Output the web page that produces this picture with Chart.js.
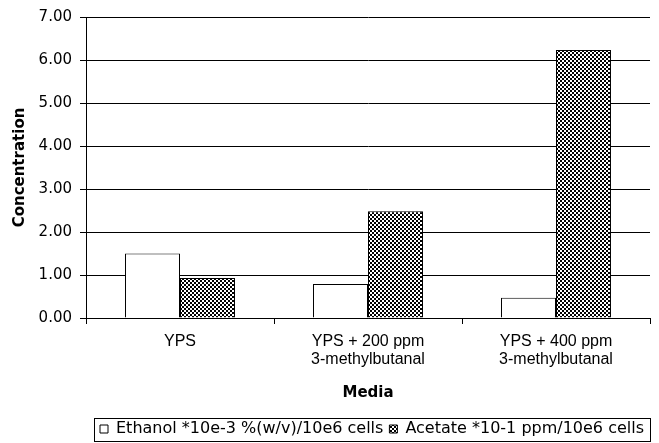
<!DOCTYPE html>
<html>
<head>
<meta charset="utf-8">
<script src="https://cdn.jsdelivr.net/npm/chart.js@4/dist/chart.umd.min.js"></script>
<style>
  html, body { margin: 0; padding: 0; background: #fff; }
  #wrap { width: 659px; height: 443px; }
  canvas { background: #fff; }
</style>
</head>
<body>
<div id="wrap"><canvas id="c" width="659" height="443"></canvas></div>
<script>
// ---- data ----
const categories = [
  ['YPS'],
  ['YPS + 200 ppm', '3-methylbutanal'],
  ['YPS + 400 ppm', '3-methylbutanal']
];
const ethanolLabel = 'Ethanol *10e-3 %(w/v)/10e6 cells';
const acetateLabel = 'Acetate *10-1 ppm/10e6 cells';
const ethanolValues = [1.50, 0.79, 0.47];
const acetateValues = [0.93, 2.48, 6.23];
const yMin = 0, yMax = 7, yStep = 1;
const yTitle = 'Concentration';
const xTitle = 'Media';

// ---- checker pattern for acetate ----
function checker() {
  const p = document.createElement('canvas');
  p.width = 4; p.height = 4;
  const g = p.getContext('2d');
  g.fillStyle = '#fff'; g.fillRect(0, 0, 4, 4);
  g.fillStyle = '#000';
  g.fillRect(0, 0, 2, 2);
  g.fillRect(2, 2, 2, 2);
  return g.createPattern(p, 'repeat');
}
const ctx = document.getElementById('c').getContext('2d');
const pat = checker();

const legendBorder = {
  id: 'legendBorder',
  afterDraw(chart) {
    const lg = chart.legend;
    if (!lg || !lg.legendHitBoxes || !lg.legendHitBoxes.length) return;
    const hb = lg.legendHitBoxes;
    let l = Infinity, r = -Infinity, t = Infinity, b = -Infinity;
    hb.forEach(h => {
      l = Math.min(l, h.left); r = Math.max(r, h.left + h.width);
      t = Math.min(t, h.top); b = Math.max(b, h.top + h.height);
    });
    const c = chart.ctx;
    c.save();
    c.strokeStyle = '#000';
    c.lineWidth = 1;
    c.strokeRect(Math.round(l - 6) + 0.5, Math.round(t - 3) + 0.5, Math.round(r - l + 12), Math.round(b - t + 7));
    c.restore();
  }
};

new Chart(ctx, {
  type: 'bar',
  data: {
    labels: categories,
    datasets: [
      {
        label: ethanolLabel,
        data: ethanolValues,
        backgroundColor: '#ffffff',
        borderColor: '#000000',
        borderWidth: 1
      },
      {
        label: acetateLabel,
        data: acetateValues,
        backgroundColor: pat,
        borderColor: '#000000',
        borderWidth: 1
      }
    ]
  },
  options: {
    responsive: false,
    animation: false,
    devicePixelRatio: 1,
    layout: { padding: { left: 0, right: 9, top: 16, bottom: -4 } },
    datasets: { bar: { categoryPercentage: 0.585, barPercentage: 1.0 } },
    scales: {
      x: {
        offset: true,
        grid: {
          offset: true,
          drawOnChartArea: false,
          drawTicks: true,
          tickLength: 6,
          color: '#000',
          lineWidth: 1
        },
        border: { display: true, color: '#000', width: 1 },
        ticks: {
          color: '#000',
          padding: 9,
          maxRotation: 0,
          autoSkip: false,
          font: { family: '"Liberation Sans", Arial, sans-serif', size: 16, lineHeight: 1.1 }
        },
        title: {
          display: true,
          text: xTitle,
          color: '#000',
          font: { family: '"DejaVu Sans", sans-serif', size: 15, weight: 'bold', lineHeight: 1.2 },
          padding: { top: 0, bottom: 13 }
        },
        afterFit(scale) { scale.height = 97; }
      },
      y: {
        min: yMin,
        max: yMax,
        grid: {
          drawTicks: true,
          tickLength: 6,
          color: '#000',
          lineWidth: 1
        },
        border: { display: true, color: '#000', width: 1 },
        ticks: {
          stepSize: yStep,
          color: '#000',
          padding: 8,
          font: { family: '"DejaVu Sans", sans-serif', size: 15 },
          callback: v => Number(v).toFixed(2)
        },
        title: {
          display: true,
          text: yTitle,
          color: '#000',
          font: { family: '"DejaVu Sans", sans-serif', size: 15, weight: 'bold', lineHeight: 1.2 },
          padding: { top: 11, bottom: 0 }
        },
        afterFit(scale) { scale.width = 86; }
      }
    },
    plugins: {
      legend: {
        display: true,
        position: 'bottom',
        align: 'end',
        labels: {
          color: '#000',
          boxWidth: 8,
          boxHeight: 8,
          padding: 6,
          font: { family: '"DejaVu Sans", sans-serif', size: 16 }
        }
      },
      tooltip: { enabled: false }
    }
  },
  plugins: [legendBorder]
});
</script>
</body>
</html>
